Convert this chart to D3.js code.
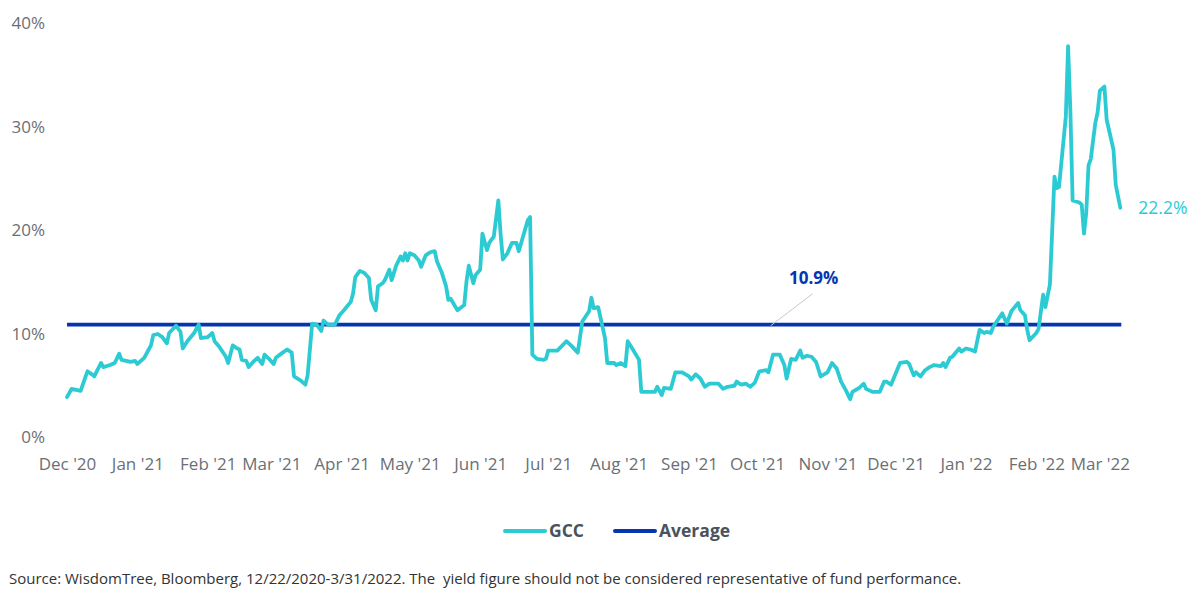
<!DOCTYPE html>
<html>
<head>
<meta charset="utf-8">
<script src="https://cdn.jsdelivr.net/npm/d3@7"></script>
<style>
  html, body { margin: 0; padding: 0; background: #ffffff; }
  svg { display: block; font-family: "Open Sans", sans-serif; }
</style>
</head>
<body>
<svg id="chart" width="1200" height="598"></svg>
<script>
// ---- DATA ----
const dates = [
"2020-12-22","2020-12-24","2020-12-26","2020-12-28","2020-12-31","2021-01-02","2021-01-03","2021-01-06","2021-01-07","2021-01-10",
"2021-01-12","2021-01-14","2021-01-15","2021-01-17","2021-01-19","2021-01-21","2021-01-22","2021-01-25","2021-01-27","2021-01-28",
"2021-01-29","2021-01-31","2021-02-02","2021-02-04","2021-02-05","2021-02-08","2021-02-10","2021-02-11","2021-02-13","2021-02-16",
"2021-02-18","2021-02-19","2021-02-22","2021-02-24","2021-02-25","2021-02-27","2021-03-02","2021-03-03","2021-03-05","2021-03-07",
"2021-03-08","2021-03-09","2021-03-11","2021-03-12","2021-03-14","2021-03-16","2021-03-18","2021-03-19","2021-03-21","2021-03-23",
"2021-03-24","2021-03-27","2021-03-29","2021-03-31","2021-04-01","2021-04-04","2021-04-06","2021-04-07","2021-04-09","2021-04-11",
"2021-04-13","2021-04-14","2021-04-16","2021-04-19","2021-04-21","2021-04-23","2021-04-26","2021-04-27","2021-04-28","2021-04-30",
"2021-05-02","2021-05-04","2021-05-05","2021-05-07","2021-05-08","2021-05-10","2021-05-11","2021-05-13","2021-05-14","2021-05-16",
"2021-05-18","2021-05-19","2021-05-20","2021-05-21","2021-05-22","2021-05-24","2021-05-26","2021-05-27","2021-05-29","2021-05-31",
"2021-06-02","2021-06-03","2021-06-05","2021-06-07","2021-06-08","2021-06-09","2021-06-12","2021-06-15","2021-06-16","2021-06-17",
"2021-06-19","2021-06-20","2021-06-22","2021-06-23","2021-06-25","2021-06-26","2021-06-28","2021-06-30","2021-07-01","2021-07-02",
"2021-07-04","2021-07-06","2021-07-08","2021-07-09","2021-07-13","2021-07-14","2021-07-15","2021-07-17","2021-07-20","2021-07-21",
"2021-07-22","2021-07-26","2021-07-30","2021-08-01","2021-08-04","2021-08-06","2021-08-09","2021-08-10","2021-08-11","2021-08-13",
"2021-08-16","2021-08-17","2021-08-20","2021-08-21","2021-08-23","2021-08-25","2021-08-26","2021-08-28","2021-08-31","2021-09-01",
"2021-09-04","2021-09-07","2021-09-08","2021-09-10","2021-09-11","2021-09-14","2021-09-16","2021-09-19","2021-09-22","2021-09-23",
"2021-09-25","2021-09-27","2021-09-29","2021-10-01","2021-10-05","2021-10-07","2021-10-09","2021-10-12","2021-10-13","2021-10-15",
"2021-10-17","2021-10-19","2021-10-21","2021-10-23","2021-10-26","2021-10-27","2021-10-29","2021-11-01","2021-11-03","2021-11-04",
"2021-11-06","2021-11-08","2021-11-10","2021-11-11","2021-11-13","2021-11-15","2021-11-17","2021-11-19","2021-11-22","2021-11-24",
"2021-11-26","2021-11-28","2021-11-30","2021-12-02","2021-12-03","2021-12-06","2021-12-08","2021-12-09","2021-12-12","2021-12-15",
"2021-12-17","2021-12-18","2021-12-20","2021-12-23","2021-12-24","2021-12-27","2021-12-28","2021-12-30","2021-12-31","2022-01-02",
"2022-01-04","2022-01-06","2022-01-08","2022-01-11","2022-01-12","2022-01-13","2022-01-15","2022-01-16","2022-01-19","2022-01-20",
"2022-01-22","2022-01-24","2022-01-26","2022-01-28","2022-01-30","2022-01-31","2022-02-02","2022-02-03","2022-02-07","2022-02-09",
"2022-02-11","2022-02-14","2022-02-15","2022-02-17","2022-02-18","2022-02-19","2022-02-22","2022-02-23","2022-02-25","2022-02-26",
"2022-02-28","2022-03-02","2022-03-03","2022-03-04","2022-03-07","2022-03-08","2022-03-09","2022-03-10","2022-03-13","2022-03-14",
"2022-03-15","2022-03-16","2022-03-17","2022-03-18","2022-03-20","2022-03-21","2022-03-22","2022-03-24","2022-03-25","2022-03-28",
"2022-03-29","2022-03-31"
];
const gccYield = [
3.9,4.7,4.6,4.5,6.4,6.1,5.9,7.2,6.8,7.0,
7.2,8.1,7.5,7.4,7.3,7.4,7.1,7.7,8.5,8.9,
9.9,10.0,9.7,9.1,10.1,10.8,10.2,8.6,9.3,10.1,
10.9,9.6,9.7,10.1,9.3,8.8,7.8,7.2,8.9,8.6,
8.5,7.5,7.4,6.8,7.3,7.7,7.1,8.0,7.6,7.1,
7.7,8.2,8.5,8.2,5.9,5.5,5.1,6.0,11.0,10.9,
10.3,11.3,10.9,10.9,11.8,12.3,13.1,13.9,15.5,16.1,
15.9,15.4,13.3,12.3,14.6,14.9,15.2,16.2,15.2,16.6,
17.5,17.1,17.8,17.1,17.8,17.6,17.1,16.5,17.6,17.9,
18.0,17.0,16.0,14.6,13.3,13.4,12.3,12.8,15.1,16.6,
14.9,15.7,16.2,19.7,18.1,18.8,19.4,22.9,19.7,17.2,
17.8,18.8,18.8,18.0,21.0,21.3,8.0,7.6,7.5,7.6,
8.4,8.4,9.3,8.9,8.2,11.2,12.2,13.5,12.5,12.6,
9.6,7.2,7.2,7.0,7.2,6.9,9.3,8.6,7.5,4.4,
4.4,4.4,4.9,4.1,4.8,4.7,6.3,6.3,5.9,5.6,
6.1,5.7,4.9,5.2,5.2,4.7,4.9,5.0,5.4,5.1,
5.2,4.9,5.3,6.4,6.5,6.3,8.0,8.0,7.0,5.7,
7.6,7.5,8.4,7.7,7.9,7.8,7.3,5.9,6.3,7.2,
6.7,5.4,4.6,3.7,4.4,4.8,5.2,4.7,4.4,4.4,
5.4,5.4,5.1,6.7,7.2,7.3,7.1,6.0,6.3,5.9,
6.5,6.8,7.0,6.9,7.2,6.8,7.7,7.8,8.6,8.3,
8.6,8.5,8.3,10.4,10.1,10.2,10.1,10.7,12.0,11.0,
12.2,13.0,12.3,11.8,10.4,9.4,10.1,10.5,13.8,12.6,
14.8,25.2,24.1,24.2,31.0,37.8,31.6,22.9,22.7,22.5,
19.7,21.7,26.3,26.9,30.4,31.4,33.5,33.9,30.7,27.8,
24.4,22.2
];
const averageYield = 10.9;
const yTicks = [0, 10, 20, 30, 40];
const xTickDates = ["2020-12-22","2021-01-22","2021-02-22","2021-03-22","2021-04-22","2021-05-22","2021-06-22","2021-07-22",
  "2021-08-22","2021-09-22","2021-10-22","2021-11-22","2021-12-22","2022-01-22","2022-02-22","2022-03-22"];
const xTickLabels = ["Dec '20","Jan '21","Feb '21","Mar '21","Apr '21","May '21","Jun '21","Jul '21",
  "Aug '21","Sep '21","Oct '21","Nov '21","Dec '21","Jan '22","Feb '22","Mar '22"];
const seriesNames = ["GCC", "Average"];
const lastLabel = "22.2%";
const avgLabel = "10.9%";
const sourceText = "Source: WisdomTree, Bloomberg, 12/22/2020-3/31/2022. The  yield figure should not be considered representative of fund performance.";

// ---- CHART ----
const parse = d3.utcParse("%Y-%m-%d");
const data = dates.map((d, i) => ({ date: parse(d), value: gccYield[i] }));

const svg = d3.select("#chart");
const cyan = "#2ccbd3";
const navy = "#0535b0";
const grey = "#6b6f75";

const x = d3.scaleUtc()
  .domain([parse("2020-12-22"), parse("2022-03-31")])
  .range([67, 1120.3]);
const y = d3.scaleLinear().domain([0, 40]).range([437.5, 23.5]);

// y axis labels
const yAxis = d3.axisLeft(y).tickValues(yTicks).tickFormat(d => d + "%").tickSize(0).tickPadding(0);
const gy = svg.append("g").attr("transform", "translate(45,0)").call(yAxis);
gy.select(".domain").remove();
gy.selectAll("text").attr("font-size", 17).attr("fill", grey).attr("font-family", "Open Sans, sans-serif");

// x axis labels
const xAxis = d3.axisBottom(x).tickValues(xTickDates.map(parse))
  .tickFormat((d, i) => xTickLabels[i]).tickSize(0).tickPadding(0);
const gx = svg.append("g").attr("transform", "translate(0,458)").call(xAxis);
gx.select(".domain").remove();
gx.selectAll("text").attr("font-size", 17).attr("fill", grey).attr("font-family", "Open Sans, sans-serif");

// average line
svg.append("line")
  .attr("x1", x.range()[0]).attr("x2", x.range()[1] + 1)
  .attr("y1", y(averageYield)).attr("y2", y(averageYield))
  .attr("stroke", navy).attr("stroke-width", 3.8);

// GCC line
const line = d3.line().x(d => x(d.date)).y(d => y(d.value)).curve(d3.curveLinear);
svg.append("path").datum(data)
  .attr("d", line).attr("fill", "none")
  .attr("stroke", cyan).attr("stroke-width", 3.8)
  .attr("stroke-linejoin", "round").attr("stroke-linecap", "round");

// average annotation
const annX = x(parse("2021-10-28"));
svg.append("line")
  .attr("x1", annX).attr("y1", y(averageYield) + 1)
  .attr("x2", annX + 42).attr("y2", y(averageYield) - 31)
  .attr("stroke", "#c8c8c8").attr("stroke-width", 1);
svg.append("text")
  .attr("x", annX + 43).attr("y", y(averageYield) - 41)
  .attr("text-anchor", "middle")
  .attr("font-size", 17).attr("font-weight", 700).attr("fill", navy)
  .text(avgLabel);

// last value label
const last = data[data.length - 1];
svg.append("text")
  .attr("x", x(last.date) + 18).attr("y", y(last.value) + 6)
  .attr("font-size", 17.5).attr("font-weight", 500).attr("fill", cyan)
  .text(lastLabel);

// legend
const legendItems = [
  { name: seriesNames[0], color: cyan, x0: 505 },
  { name: seriesNames[1], color: navy, x0: 615 }
];
const lg = svg.append("g").attr("transform", "translate(0,531)");
legendItems.forEach(it => {
  lg.append("line").attr("x1", it.x0).attr("x2", it.x0 + 40)
    .attr("y1", 0).attr("y2", 0)
    .attr("stroke", it.color).attr("stroke-width", 4).attr("stroke-linecap", "round");
  lg.append("text").attr("x", it.x0 + 44).attr("y", 6)
    .attr("font-size", 17.5).attr("font-weight", 700).attr("fill", "#4a525c")
    .text(it.name);
});

// source
svg.append("text")
  .attr("x", 9).attr("y", 584)
  .attr("font-size", 15).attr("fill", "#333")
  .style("white-space", "pre")
  .text(sourceText);
</script>
</body>
</html>
